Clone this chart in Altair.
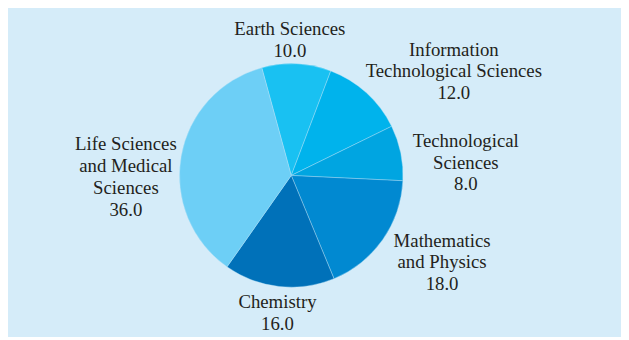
import math
import altair as alt
import pandas as pd

# ---- data ----
CATEGORIES = [
    "Earth Sciences",
    "Information Technological Sciences",
    "Technological Sciences",
    "Mathematics and Physics",
    "Chemistry",
    "Life Sciences and Medical Sciences",
]
LABEL_NAMES = [
    "Earth Sciences",
    "Information\nTechnological Sciences",
    "Technological\nSciences",
    "Mathematics\nand Physics",
    "Chemistry",
    "Life Sciences\nand Medical\nSciences",
]
VALUES = [10.0, 12.0, 8.0, 18.0, 16.0, 36.0]

# ---- styling ----
COLORS = ["#19c1f2", "#00b3ec", "#00a5e1", "#0189d1", "#0071b9", "#6dcff6"]
BG = "#d5ecf9"
FONT = "Liberation Serif"
TEXT_COLOR = "#231f20"
START_ANGLE = math.radians(-15.3)
PIE_RADIUS = 113
LABEL_RADIUS = 118
# fine nudges of each label (dx, dy) relative to its anchor on the slice mid-angle
LABEL_NUDGE = {
    "Earth Sciences": (-7, -30),
    "Information Technological Sciences": (85, -40),
    "Technological Sciences": (61, -11),
    "Mathematics and Physics": (56, -2),
    "Chemistry": (-1, 11),
    "Life Sciences and Medical Sciences": (-51, -11),
}

TOTAL = sum(VALUES)

df = pd.DataFrame({
    "category": CATEGORIES,
    "value": VALUES,
    "order": list(range(len(CATEGORIES))),
    "label": [f"{n}\n{v:.1f}" for n, v in zip(LABEL_NAMES, VALUES)],
})

theta_scale = alt.Scale(domain=[0, TOTAL], range=[START_ANGLE, START_ANGLE + 2 * math.pi])
color_scale = alt.Scale(domain=CATEGORIES, range=COLORS)

base = (
    alt.Chart(df)
    .transform_window(cum="sum(value)", sort=[alt.SortField("order")], frame=[None, 0])
    .transform_calculate(start="datum.cum - datum.value", mid="datum.cum - datum.value / 2")
)

arcs = base.mark_arc(outerRadius=PIE_RADIUS, stroke="#b8e3f7", strokeWidth=0.4).encode(
    theta=alt.Theta("start:Q", scale=theta_scale, stack=None),
    theta2="cum:Q",
    color=alt.Color("category:N", scale=color_scale, legend=None),
)

labels = []
for cat in CATEGORIES:
    dx, dy = LABEL_NUDGE[cat]
    labels.append(
        base.transform_filter(alt.datum.category == cat)
        .mark_text(
            radius=LABEL_RADIUS,
            align="center",
            baseline="middle",
            dx=dx,
            dy=dy,
            font=FONT,
            fontSize=19,
            lineHeight=22,
            lineBreak="\n",
            color=TEXT_COLOR,
        )
        .encode(
            theta=alt.Theta("mid:Q", scale=theta_scale, stack=None),
            text="label:N",
        )
    )

chart = (
    alt.layer(arcs, *labels)
    .properties(
        width=301,
        height=301,
        autosize="none",
        padding={"left": 136, "top": 17, "right": 183, "bottom": 11},
        background=BG,
    )
    .configure_view(stroke=None)
)

chart.save("out.html", embed_options={"renderer": "svg", "actions": False})
